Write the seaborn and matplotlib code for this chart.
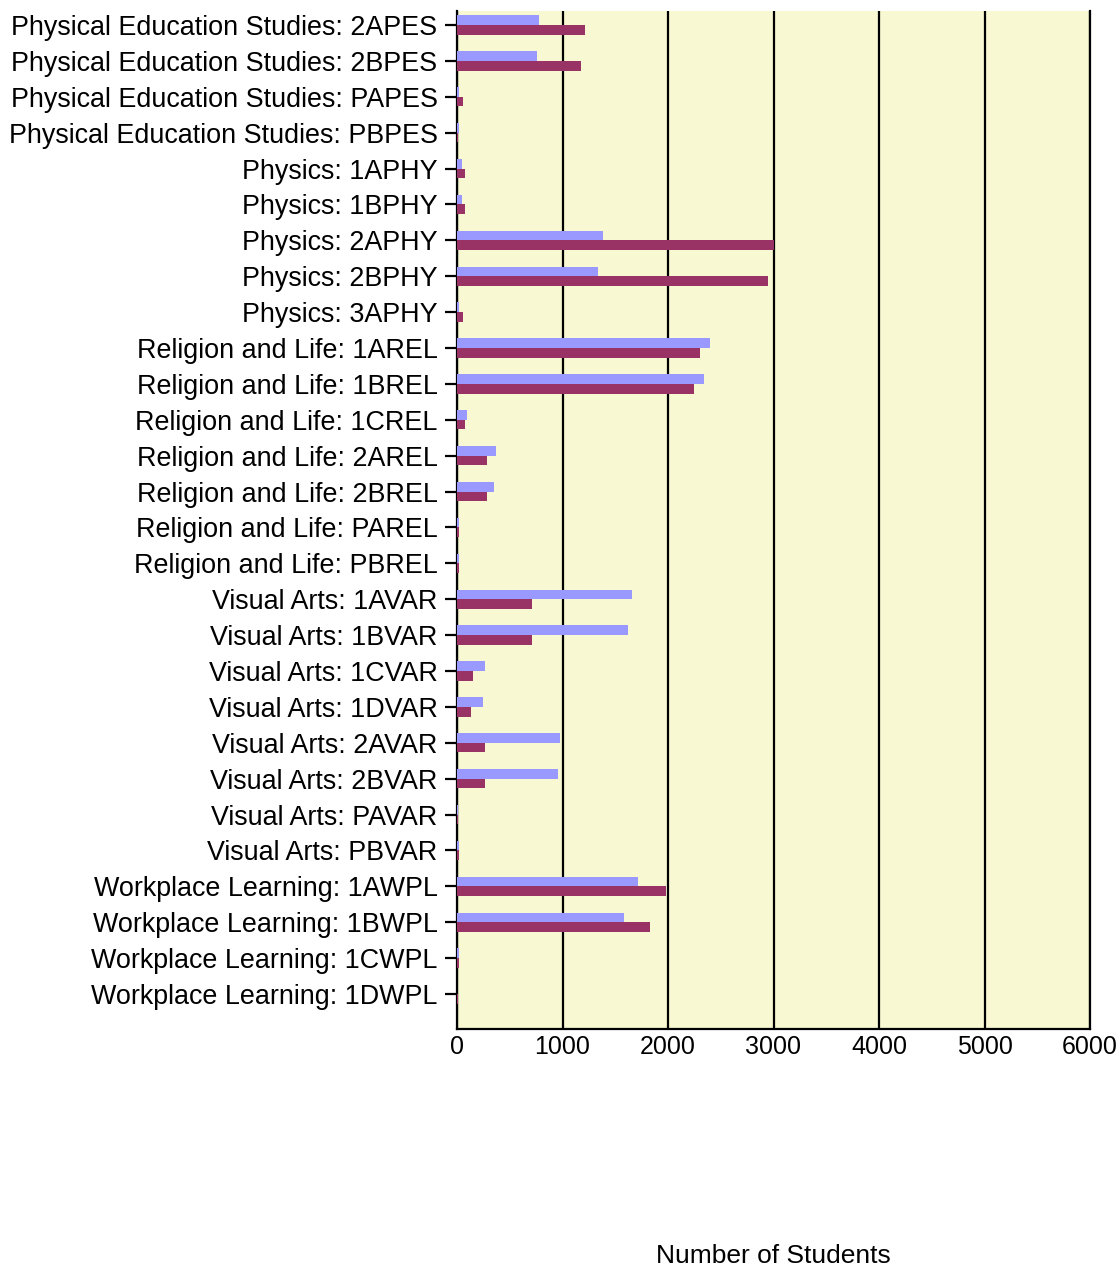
import matplotlib
matplotlib.use("Agg")

import matplotlib.pyplot as plt
import seaborn as sns
import pandas as pd

categories = [
    "Physical Education Studies: 2APES",
    "Physical Education Studies: 2BPES",
    "Physical Education Studies: PAPES",
    "Physical Education Studies: PBPES",
    "Physics: 1APHY",
    "Physics: 1BPHY",
    "Physics: 2APHY",
    "Physics: 2BPHY",
    "Physics: 3APHY",
    "Religion and Life: 1AREL",
    "Religion and Life: 1BREL",
    "Religion and Life: 1CREL",
    "Religion and Life: 2AREL",
    "Religion and Life: 2BREL",
    "Religion and Life: PAREL",
    "Religion and Life: PBREL",
    "Visual Arts: 1AVAR",
    "Visual Arts: 1BVAR",
    "Visual Arts: 1CVAR",
    "Visual Arts: 1DVAR",
    "Visual Arts: 2AVAR",
    "Visual Arts: 2BVAR",
    "Visual Arts: PAVAR",
    "Visual Arts: PBVAR",
    "Workplace Learning: 1AWPL",
    "Workplace Learning: 1BWPL",
    "Workplace Learning: 1CWPL",
    "Workplace Learning: 1DWPL",
]

series_names = ["Series 1", "Series 2"]
series_1 = [778, 759, 15, 15, 45, 45, 1388, 1335, 15, 2397, 2343, 98, 367, 348,
            15, 15, 1657, 1620, 266, 250, 974, 955, 5, 15, 1717, 1581, 15, 0]
series_2 = [1217, 1180, 60, 10, 80, 80, 3000, 2950, 60, 2300, 2245, 80, 288, 288,
            15, 15, 708, 708, 155, 133, 268, 268, 12, 15, 1980, 1825, 15, 8]
x_ticks = [0, 1000, 2000, 3000, 4000, 5000, 6000]

colors = ["#9999FF", "#993366"]

df = pd.DataFrame({
    "category": categories * 2,
    "students": series_1 + series_2,
    "series": [series_names[0]] * len(categories) + [series_names[1]] * len(categories),
})

sns.set_theme(style="white")
plt.rcParams["font.family"] = ["Liberation Sans", "DejaVu Sans"]

fig = plt.figure(figsize=(11.2, 12.69), dpi=100)
ax = fig.add_axes([457 / 1120, 1 - 1029 / 1269, (1090 - 457) / 1120, (1029 - 11) / 1269])
ax.set_facecolor("#F8F8D2")

sns.barplot(data=df, x="students", y="category", hue="series", orient="h",
            palette=colors, width=0.54, gap=0, linewidth=0, saturation=1,
            legend=False, ax=ax, zorder=3)

ax.set_xlim(0, 6000)
ax.set_xticks(x_ticks)
ax.set_ylim(len(categories) - 1 + 0.975, -0.39)

# black vertical gridlines behind the bars
ax.xaxis.grid(True, color="black", linewidth=1.6, zorder=1)
ax.yaxis.grid(False)
ax.set_axisbelow(True)

for side in ["left", "bottom", "right"]:
    ax.spines[side].set_color("black")
    ax.spines[side].set_linewidth(1.6)
ax.spines["top"].set_visible(False)

ax.tick_params(axis="y", left=True, length=9, width=1.6, color="black",
               labelsize=19.4, pad=5, labelcolor="black")
ax.tick_params(axis="x", bottom=False, length=0, labelsize=18, pad=4, labelcolor="black")

ax.set_ylabel("")
ax.set_xlabel("Number of Students", fontsize=19, color="black")
ax.xaxis.set_label_coords(0.5, (1029 - 1256) / 1018)
ax.xaxis.label.set_va("center")

plt.savefig("out.png", dpi=100)
plt.close()
